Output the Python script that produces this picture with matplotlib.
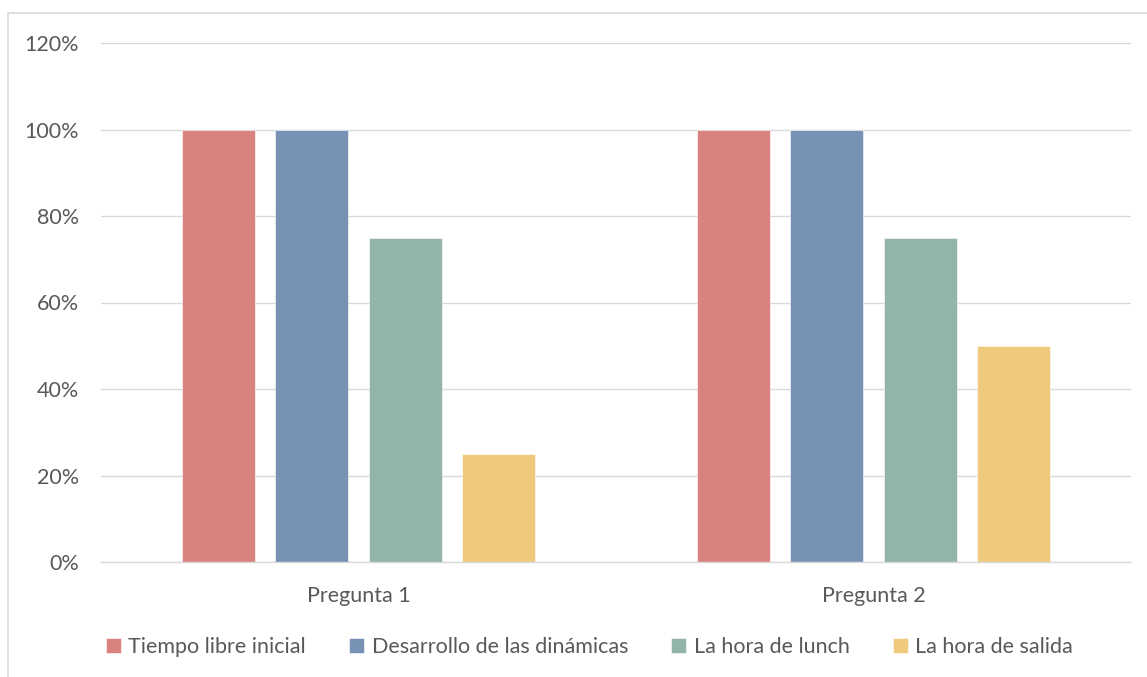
import matplotlib
matplotlib.use("Agg")
import matplotlib.pyplot as plt
from matplotlib.patches import Rectangle
from matplotlib.ticker import FuncFormatter
import numpy as np

categories = ["Pregunta 1", "Pregunta 2"]
series_names = ["Tiempo libre inicial", "Desarrollo de las dinámicas",
                "La hora de lunch", "La hora de salida"]
values = {
    "Tiempo libre inicial": [1.00, 1.00],
    "Desarrollo de las dinámicas": [1.00, 1.00],
    "La hora de lunch": [0.75, 0.75],
    "La hora de salida": [0.25, 0.50],
}
colors = ["#D98380", "#7892B5", "#93B5A8", "#EEC97E"]
yticks = [0, 0.2, 0.4, 0.6, 0.8, 1.0, 1.2]

plt.rcParams['font.family'] = ['Lato', 'DejaVu Sans']
FS = 15.5

fig = plt.figure(figsize=(11.47, 6.77), dpi=100)
ax = fig.add_axes([101/1147, 1 - 562/677, 1030/1147, (562-43)/677])

x = np.arange(len(categories))
width = 0.142
step = 0.1816
for i, name in enumerate(series_names):
    ax.bar(x + (i - 1.5) * step, values[name], width, color=colors[i],
           label=name, zorder=3, edgecolor='white', linewidth=0.4)

ax.set_xlim(-0.5, 1.5)
ax.set_ylim(0, 1.2)
ax.set_yticks(yticks)
ax.yaxis.set_major_formatter(FuncFormatter(lambda v, p: f"{v*100:.0f}%"))
ax.set_xticks(x)
ax.set_xticklabels(categories)
ax.grid(axis='y', color='#D9D9D9', linewidth=1, zorder=0)
for s in ['top', 'right', 'left']:
    ax.spines[s].set_visible(False)
ax.spines['bottom'].set_color('#D9D9D9')
ax.spines['bottom'].set_linewidth(1)
ax.spines['bottom'].set_zorder(4)
ax.tick_params(axis='both', length=0, labelsize=FS, colors='#595959')
ax.tick_params(axis='y', pad=16)
ax.tick_params(axis='x', pad=17)

leg = fig.legend(loc='center', bbox_to_anchor=(0.514, 1 - 647/677), ncol=4,
                 frameon=False, fontsize=FS, handlelength=0.7, handleheight=0.7,
                 handletextpad=0.35, columnspacing=2.0, labelcolor='#595959')

fig.patches.append(Rectangle((8/1147, -0.1), 1.2, 1 - 13/677 + 0.1,
                             transform=fig.transFigure, fill=False,
                             edgecolor='#D9D9D9', linewidth=1.2))

fig.savefig("out.png", dpi=100)
